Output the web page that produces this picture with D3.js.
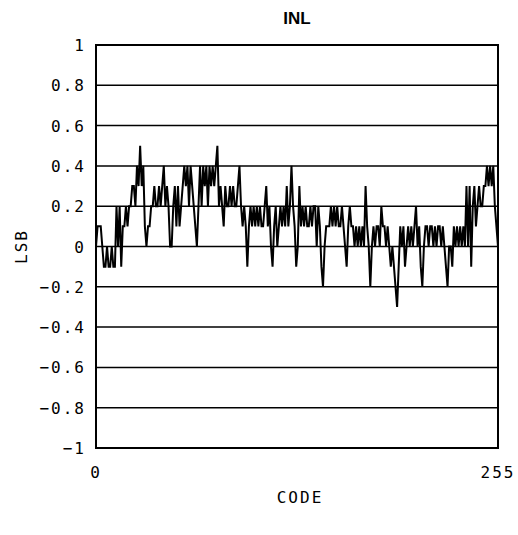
<!DOCTYPE html>
<html>
<head>
<meta charset="utf-8">
<script src="https://cdn.jsdelivr.net/npm/d3@7"></script>
<style>
  body { margin: 0; background: #fff; }
  svg text { fill: #000; }
  .lbl { font-family: "DejaVu Sans Mono", monospace; font-size: 16px; letter-spacing: 2px; }
  .title { font-family: "Liberation Sans", Arial, sans-serif; font-size: 17px; font-weight: bold; }
</style>
</head>
<body>
<svg id="chart" width="518" height="535"></svg>
<script>
// INL in LSB for each code 0..255
const inl = [
  0, 0.1, 0.1, 0.1, 0, -0.1, -0.1, 0, -0.1, -0.1, 0, -0.1, -0.1, 0.2, 0, 0.2,
  -0.1, 0.1, 0.1, 0.2, 0.1, 0.2, 0.2, 0.3, 0.3, 0.2, 0.4, 0.3, 0.5, 0.3, 0.4, 0.1,
  0, 0.1, 0.1, 0.2, 0.2, 0.3, 0.2, 0.2, 0.3, 0.2, 0.3, 0.4, 0.2, 0.3, 0.2, 0,
  0, 0.2, 0.3, 0.1, 0.3, 0.1, 0.2, 0.3, 0.4, 0.3, 0.4, 0.2, 0.4, 0.3, 0.2, 0.1,
  0, 0.2, 0.4, 0.2, 0.4, 0.3, 0.4, 0.2, 0.4, 0.3, 0.4, 0.3, 0.4, 0.5, 0.2, 0.3,
  0.2, 0.1, 0.3, 0.2, 0.2, 0.3, 0.2, 0.3, 0.2, 0.2, 0.3, 0.4, 0.2, 0.1, 0.2, 0.1,
  -0.1, 0.1, 0.2, 0.1, 0.2, 0.1, 0.2, 0.1, 0.2, 0.1, 0.1, 0.2, 0.3, 0.1, 0.2, 0,
  -0.1, 0.1, 0.2, 0, 0.1, 0.2, 0.1, 0.2, 0.1, 0.3, 0.1, 0.2, 0.4, 0.2, 0.1, -0.1,
  0, 0.3, 0.1, 0.2, 0.1, 0.2, 0.1, 0.1, 0.2, 0.1, 0.2, 0.2, 0, 0.2, 0.1, -0.1,
  -0.2, 0, 0.1, 0.1, 0.1, 0.2, 0.1, 0.2, 0.1, 0.2, 0.1, 0.1, 0.2, 0.1, 0, -0.1,
  0.1, 0.2, 0.1, 0.1, 0, 0.1, 0, 0.1, 0, 0.1, 0, 0.3, 0.1, 0, -0.2, 0,
  0.1, 0, 0.1, 0.1, 0, 0.2, 0.1, 0.1, 0, 0.1, 0, -0.1, 0, -0.1, -0.2, -0.3,
  -0.1, 0.1, 0, 0.1, -0.1, 0, 0.1, 0, 0.1, 0, 0.1, 0.2, 0, 0.1, -0.1, -0.2,
  0, 0.1, 0.1, 0, 0.1, 0.1, 0, 0.1, 0, 0.1, 0.1, 0, 0.1, 0, -0.1, -0.2,
  0, 0, -0.1, 0.1, 0, 0.1, 0, 0.1, 0, 0.1, 0, 0.3, 0, 0.3, -0.1, 0.2,
  0.3, 0.1, 0.2, 0.3, 0.2, 0.2, 0.3, 0.3, 0.4, 0.3, 0.4, 0.3, 0.4, 0.2, 0.1, 0
]
const codes = d3.range(inl.length)
const yTicks = [-1, -0.8, -0.6, -0.4, -0.2, 0, 0.2, 0.4, 0.6, 0.8, 1]
const xTicks = [0, 255]

const svg = d3.select("#chart")
const plotL = 96, plotR = 498, plotT = 45, plotB = 448

let x = d3.scaleLinear().domain([0, 255]).range([plotL, plotR])
let y = d3.scaleLinear().domain([-1, 1]).range([plotB, plotT])

// horizontal grid
svg.append("g")
    .selectAll("line")
    .data(yTicks)
    .enter()
    .append("line")
    .attr("x1", plotL)
    .attr("x2", plotR)
    .attr("y1", (d) => y(d))
    .attr("y2", (d) => y(d))
    .attr("stroke", "#000")
    .attr("stroke-width", 1.5)

// y labels
svg.append("g")
    .selectAll("text")
    .data(yTicks)
    .enter()
    .append("text")
    .attr("class", "lbl")
    .attr("x", 86)
    .attr("y", (d) => y(d) + 6)
    .attr("text-anchor", "end")
    .text((d) => (d < 0 ? "\u2212" : "") + Math.abs(d))

// x labels
svg.append("g")
    .selectAll("text")
    .data(xTicks)
    .enter()
    .append("text")
    .attr("class", "lbl")
    .attr("x", (d) => x(d))
    .attr("y", 478)
    .attr("text-anchor", "middle")
    .text((d) => d)

// data line
let line = d3.line()
    .x((d, i) => x(codes[i]))
    .y((d) => y(d))

svg.append("path")
    .datum(inl)
    .attr("d", line)
    .attr("fill", "none")
    .attr("stroke", "#000")
    .attr("stroke-width", 2)

// frame
svg.append("rect")
    .attr("x", plotL)
    .attr("y", plotT)
    .attr("width", plotR - plotL)
    .attr("height", plotB - plotT)
    .attr("fill", "none")
    .attr("stroke", "#000")
    .attr("stroke-width", 2)

svg.append("text")
    .attr("class", "title")
    .attr("x", (plotL + plotR) / 2)
    .attr("y", 24)
    .attr("text-anchor", "middle")
    .text("INL")

svg.append("text")
    .attr("class", "lbl")
    .attr("x", 300)
    .attr("y", 503)
    .attr("text-anchor", "middle")
    .text("CODE")

svg.append("text")
    .attr("class", "lbl")
    .attr("transform", "translate(27," + y(0) + ") rotate(-90)")
    .attr("text-anchor", "middle")
    .text("LSB")
</script>
</body>
</html>
